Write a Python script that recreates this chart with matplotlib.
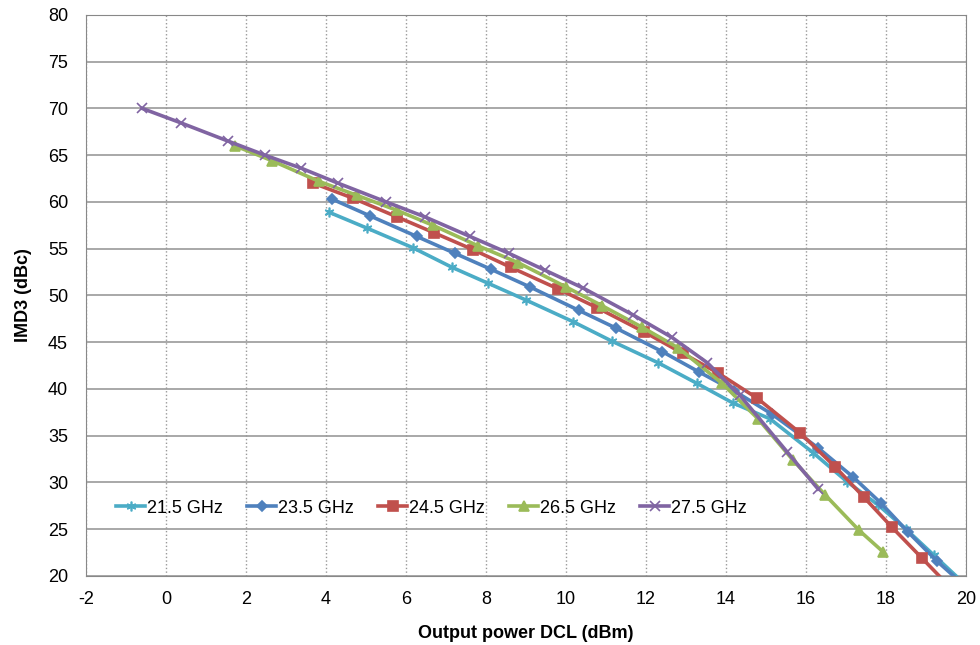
import matplotlib
matplotlib.use("Agg")
import matplotlib.pyplot as plt

plt.rcParams['font.family'] = ['Liberation Sans', 'DejaVu Sans']
plt.rcParams['axes.unicode_minus'] = False

# Output power (dBm) and IMD3 (dBc) per frequency
x_215 = [4.07, 5.02, 6.17, 7.15, 8.05, 9.0, 10.17, 11.15, 12.3, 13.27, 14.17, 15.1, 16.17, 17.02, 17.8, 18.5, 19.2, 20.0]
y_215 = [58.9, 57.2, 55.1, 53.0, 51.3, 49.5, 47.2, 45.1, 42.8, 40.6, 38.5, 36.8, 33.2, 30.1, 27.6, 25.0, 22.2, 19.0]

x_235 = [4.15, 5.1, 6.27, 7.22, 8.12, 9.1, 10.32, 11.25, 12.4, 13.33, 14.2, 15.15, 16.3, 17.17, 17.87, 18.55, 19.27, 19.95]
y_235 = [60.3, 58.5, 56.3, 54.5, 52.8, 50.9, 48.4, 46.5, 44.0, 41.8, 39.8, 37.3, 33.7, 30.6, 27.8, 24.7, 21.6, 19.0]

x_245 = [3.68, 4.67, 5.77, 6.7, 7.67, 8.62, 9.8, 10.77, 11.95, 12.92, 13.8, 14.78, 15.85, 16.72, 17.45, 18.15, 18.9, 19.6]
y_245 = [62.0, 60.4, 58.4, 56.7, 54.9, 53.0, 50.7, 48.7, 46.1, 43.8, 41.7, 39.0, 35.3, 31.7, 28.4, 25.2, 21.9, 18.8]

x_265 = [1.72, 2.65, 3.82, 4.77, 5.77, 6.67, 7.8, 8.8, 10.0, 10.9, 11.9, 12.8, 13.9, 14.8, 15.67, 16.47, 17.32, 17.92]
y_265 = [66.0, 64.4, 62.2, 60.7, 59.1, 57.5, 55.3, 53.5, 50.9, 48.9, 46.6, 44.4, 40.6, 36.8, 32.4, 28.7, 24.9, 22.6]

x_275 = [-0.6, 0.37, 1.55, 2.47, 3.38, 4.3, 5.5, 6.47, 7.6, 8.57, 9.47, 10.42, 11.68, 12.65, 13.53, 14.35, 15.52, 16.3]
y_275 = [70.0, 68.45, 66.5, 65.0, 63.6, 62.0, 60.0, 58.4, 56.3, 54.5, 52.7, 50.8, 47.9, 45.5, 42.8, 39.3, 33.3, 29.3]

labels = ["21.5 GHz", "23.5 GHz", "24.5 GHz", "26.5 GHz", "27.5 GHz"]
colors = ["#4BACC6", "#4F81BD", "#C0504D", "#9BBB59", "#8064A2"]
markers = [(6, 2, 0), "D", "s", "^", "x"]
msizes = [7, 5, 7, 7, 7]
xs = [x_215, x_235, x_245, x_265, x_275]
ys = [y_215, y_235, y_245, y_265, y_275]

fig = plt.figure(figsize=(9.8, 6.45), dpi=100)
ax = fig.add_axes([0.0878, 0.107, 0.898, 0.870])

for x, y, lab, c, m, ms in zip(xs, ys, labels, colors, markers, msizes):
    ax.plot(x, y, color=c, marker=m, markersize=ms, linewidth=2.6,
            markeredgewidth=1.2, label=lab)

ax.set_xlim(-2, 20)
ax.set_ylim(20, 80)
ax.set_xticks(range(-2, 21, 2))
ax.set_yticks(range(20, 81, 5))
ax.grid(axis='y', color='#999999', linewidth=1.2)
ax.grid(axis='x', color='#999999', linewidth=1.0, linestyle=':')
ax.set_axisbelow(True)
for s in ax.spines.values():
    s.set_color('#888888')
ax.tick_params(axis='y', length=0, labelsize=13, pad=13)
ax.tick_params(axis='x', length=0, labelsize=13, pad=11)

ax.set_xlabel("Output power DCL (dBm)", fontsize=13, fontweight='bold', labelpad=12)
ax.set_ylabel("IMD3 (dBc)", fontsize=13, fontweight='bold', labelpad=11)

ax.legend(loc='center left', bbox_to_anchor=(0.016, 0.121), ncol=5, frameon=False,
          fontsize=13, handlelength=1.6, handletextpad=0.1, columnspacing=1.35)

fig.savefig("out.png", dpi=100)
